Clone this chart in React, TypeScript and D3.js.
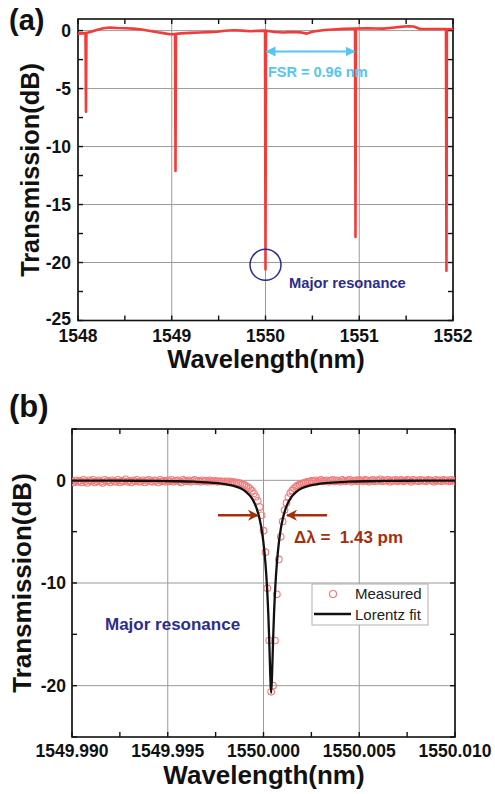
import * as d3 from "d3";

const FONT = "'Liberation Sans', Arial, Helvetica, sans-serif";

// ---- panel (a): full transmission spectrum ----
const specWl = [
  1548.0, 1548.04, 1548.08, 1548.085, 1548.09, 1548.13, 1548.2, 1548.27, 1548.34, 1548.42,
  1548.5, 1548.59, 1548.68, 1548.77, 1548.85, 1548.91, 1548.98, 1549.035, 1549.04, 1549.045,
  1549.1, 1549.2, 1549.3, 1549.4, 1549.48, 1549.57, 1549.66, 1549.75, 1549.84, 1549.92,
  1549.995, 1550.0, 1550.005, 1550.1, 1550.19, 1550.28, 1550.37, 1550.44, 1550.5, 1550.55,
  1550.63, 1550.72, 1550.83, 1550.955, 1550.96, 1550.965, 1551.08, 1551.17, 1551.26, 1551.35,
  1551.44, 1551.52, 1551.58, 1551.65, 1551.72, 1551.79, 1551.88, 1551.925, 1551.93, 1551.935,
  1552.0,
];
const specDb = [
  -0.26, -0.24, -0.22, -7.0, -0.2, -0.12, 0.05, 0.2, 0.26, 0.22,
  0.2, 0.17, 0.1, -0.03, -0.15, -0.22, -0.32, -0.3, -12.1, -0.28,
  -0.24, -0.2, -0.17, -0.13, -0.1, -0.02, 0.03, 0.0, -0.05, -0.02,
  0.0, -20.6, -0.02, -0.12, -0.17, -0.12, -0.15, -0.26, -0.1, -0.03,
  0.05, 0.1, 0.15, 0.18, -17.8, 0.18, 0.2, 0.18, 0.17, 0.24,
  0.32, 0.37, 0.35, 0.14, 0.14, 0.14, 0.14, 0.14, -20.7, 0.12,
  0.14,
];
const xTicksA = [1548, 1549, 1550, 1551, 1552];
const xMinorA = [1548.5, 1549.5, 1550.5, 1551.5];
const yTicksA = [0, -5, -10, -15, -20, -25];
const yMinorA = [-2.5, -7.5, -12.5, -17.5, -22.5];

// ---- panel (b): major resonance ----
const measStart = 1549.99;
const measStep = 0.0001;
const measDb = [
  -0.1, -0.2, 0.0, -0.15, -0.05, -0.2, 0.05, -0.1, -0.25, 0.0,
  -0.1, 0.05, -0.2, -0.1, 0.0, -0.15, -0.25, 0.05, -0.1, -0.05,
  -0.2, 0.0, -0.1, -0.15, 0.05, -0.2, -0.05, -0.1, 0.1, -0.15,
  -0.05, -0.2, 0.0, -0.1, 0.05, -0.15, -0.1, 0.0, -0.2, -0.05,
  0.05, -0.1, -0.15, 0.0, -0.05, -0.2, 0.05, -0.1, -0.05, -0.15,
  0.0, -0.1, 0.05, -0.15, -0.05, 0.0, -0.1, -0.2, 0.05, -0.05,
  -0.1, 0.0, -0.15, -0.05, 0.05, -0.1, -0.05, -0.15, 0.0, -0.1,
  -0.05, -0.15, 0.0, -0.1, -0.1, -0.05, -0.15, -0.1, -0.1, -0.15,
  -0.1, -0.15, -0.1, -0.2, -0.15, -0.2, -0.22, -0.26, -0.3, -0.38,
  -0.45, -0.55, -0.68, -0.83, -1.02, -1.28, -1.6, -2.0, -2.6, -3.4,
  -4.9, -7.0, -10.5, -15.6, -20.6, -20.0, -15.6, -11.1, -7.7, -5.5,
  -4.0, -2.9, -2.2, -1.65, -1.25, -0.98, -0.78, -0.62, -0.5, -0.4,
  -0.32, -0.26, -0.2, -0.15, -0.12, -0.05, -0.1, 0.0, -0.15, -0.05,
  0.05, -0.1, -0.05, 0.0, -0.15, -0.05, 0.05, -0.1, 0.0, -0.05,
  -0.15, 0.05, -0.05, -0.1, 0.0, 0.05, -0.15, -0.05, 0.0, -0.1,
  0.05, -0.05, -0.1, 0.05, 0.0, -0.15, -0.05, 0.05, -0.1, 0.0,
  -0.05, 0.1, -0.1, 0.0, -0.05, 0.05, -0.15, 0.0, -0.05, 0.05,
  -0.1, 0.0, 0.05, -0.1, -0.05, 0.05, 0.0, -0.15, 0.05, -0.05,
  0.0, -0.1, 0.05, -0.05, 0.0, -0.1, 0.05, 0.0, -0.05, -0.15,
  0.05, -0.05, 0.0, -0.1, 0.05, -0.05, 0.0, -0.1, 0.05, -0.05,
  -0.1,
];
const fitWl = [
  1549.99, 1549.9924, 1549.9944, 1549.9954, 1549.9964, 1549.9974, 1549.9979, 1549.9984,
  1549.9988, 1549.9991, 1549.9993, 1549.9995, 1549.99965, 1549.9998, 1549.9999, 1550.0,
  1550.0001, 1550.00018, 1550.00025, 1550.0003, 1550.00035, 1550.0004, 1550.00045, 1550.0005,
  1550.00055, 1550.00062, 1550.0007, 1550.0008, 1550.0009, 1550.001, 1550.00115, 1550.0013,
  1550.0015, 1550.0017, 1550.002, 1550.0024, 1550.0029, 1550.0034, 1550.0044, 1550.0054,
  1550.0064, 1550.0084, 1550.01,
];
const fitDb = [
  -0.02, -0.034, -0.061, -0.087, -0.135, -0.238, -0.338, -0.518,
  -0.78, -1.14, -1.515, -2.1, -2.77, -3.79, -4.76, -6.11,
  -8.04, -10.25, -12.98, -15.6, -18.75, -20.7, -18.75, -15.6,
  -12.98, -10.25, -8.04, -6.11, -4.76, -3.79, -2.77, -2.1,
  -1.515, -1.14, -0.78, -0.518, -0.338, -0.238, -0.135, -0.087,
  -0.061, -0.034, -0.024,
];
const xTicksB = [1549.99, 1549.995, 1550.0, 1550.005, 1550.01];
const xMinorB = [1549.9925, 1549.9975, 1550.0025, 1550.0075];
const yTicksB = [0, -10, -20];
const yMinorB = [5, -5, -15, -25];

type Lin = d3.ScaleLinear<number, number>;

function Frame({ x, y, xMajor, xMinor, yMajor, yMinor, xFmt, yLabelX, xLabelY, clip }: {
  x: Lin; y: Lin; xMajor: number[]; xMinor: number[]; yMajor: number[]; yMinor: number[];
  xFmt: (v: number) => string; yLabelX: number; xLabelY: number; clip: string;
}) {
  const [x0, x1] = x.range();
  const [y0, y1] = y.range(); // y0 bottom, y1 top
  const tk = 5;
  const allX = [...xMajor, ...xMinor];
  const allY = [...yMajor, ...yMinor];
  return (
    <g>
      <defs>
        <clipPath id={clip}>
          <rect x={x0} y={y1} width={x1 - x0} height={y0 - y1} />
        </clipPath>
      </defs>
      {xMajor.map((v) => (
        <line key={"gx" + v} x1={x(v)} x2={x(v)} y1={y0} y2={y1} stroke="#9a9a9a" strokeWidth={1} />
      ))}
      {yMajor.map((v) => (
        <line key={"gy" + v} x1={x0} x2={x1} y1={y(v)} y2={y(v)} stroke="#9a9a9a" strokeWidth={1} />
      ))}
      {allX.map((v) => (
        <g key={"tx" + v}>
          <line x1={x(v)} x2={x(v)} y1={y0} y2={y0 - tk} stroke="#111" strokeWidth={1.4} />
          <line x1={x(v)} x2={x(v)} y1={y1} y2={y1 + tk} stroke="#111" strokeWidth={1.4} />
        </g>
      ))}
      {allY.map((v) => (
        <g key={"ty" + v}>
          <line x1={x0} x2={x0 + tk} y1={y(v)} y2={y(v)} stroke="#111" strokeWidth={1.4} />
          <line x1={x1} x2={x1 - tk} y1={y(v)} y2={y(v)} stroke="#111" strokeWidth={1.4} />
        </g>
      ))}
      <rect x={x0} y={y1} width={x1 - x0} height={y0 - y1} fill="none" stroke="#111" strokeWidth={1.6} />
      {xMajor.map((v) => (
        <text key={"lx" + v} x={x(v)} y={xLabelY} textAnchor="middle" fontSize={17.5} fontWeight="bold"
          fontFamily={FONT} fill="#111">{xFmt(v)}</text>
      ))}
      {yMajor.map((v, i) => (
        <text key={"ly" + v} x={yLabelX} y={y(v) - (i === yMajor.length - 1 && v === -25 ? 2 : 0)} dy="0.36em"
          textAnchor="end" fontSize={17.5} fontWeight="bold" fontFamily={FONT} fill="#111">{String(v)}</text>
      ))}
    </g>
  );
}

export default function App() {
  // panel (a)
  const xa = d3.scaleLinear().domain([1548, 1552]).range([78, 453]);
  const ya = d3.scaleLinear().domain([-25, 1]).range([320.5, 19]);
  const spec = specWl.map((w, i) => [w, specDb[i]] as [number, number]);
  const specLine = d3.line<[number, number]>().x((d) => xa(d[0])).y((d) => ya(d[1]));

  // panel (b)
  const xb = d3.scaleLinear().domain([1549.99, 1550.01]).range([72, 455]);
  const yb = d3.scaleLinear().domain([-25, 5]).range([737, 429]);
  const meas = measDb.map((v, i) => [measStart + i * measStep, v] as [number, number]);
  const fit = fitWl.map((w, i) => [w, fitDb[i]] as [number, number]);
  const fitLine = d3.line<[number, number]>().x((d) => xb(d[0])).y((d) => yb(d[1])).curve(d3.curveMonotoneX);

  const blue = "#55c6f0";
  const navy = "#2c2c8c";
  const brown = "#a3300c";

  return (
    <svg width={495} height={794} style={{ position: "absolute", left: 0, top: 0, background: "#fff" }}
      fontFamily={FONT}>
      <defs>
        <marker id="arrBlue" viewBox="0 0 10 10" refX={9} refY={5} markerWidth={5} markerHeight={5} orient="auto-start-reverse">
          <path d="M0,0 L10,5 L0,10 z" fill={blue} />
        </marker>
        <marker id="arrBrown" viewBox="0 0 10 10" refX={9} refY={5} markerWidth={4.5} markerHeight={4.5} orient="auto">
          <path d="M0,0 L10,5 L0,10 L3,5 z" fill={brown} />
        </marker>
      </defs>

      {/* ---------- (a) ---------- */}
      <text x={9} y={30} fontSize={29} fontWeight="bold" fill="#111">(a)</text>
      <Frame x={xa} y={ya} xMajor={xTicksA} xMinor={xMinorA} yMajor={yTicksA} yMinor={yMinorA}
        xFmt={(v) => String(v)} yLabelX={71} xLabelY={342} clip="clipA" />
      <path d={specLine(spec) ?? ""} fill="none" stroke="#f23c3a" strokeWidth={2.6} strokeLinejoin="round"
        clipPath="url(#clipA)" />
      <line x1={xa(1550.0) + 1} x2={xa(1550.96) - 1} y1={ya(-1.8)} y2={ya(-1.8)} stroke={blue} strokeWidth={2}
        markerStart="url(#arrBlue)" markerEnd="url(#arrBlue)" />
      <text x={268} y={77} fontSize={14.5} fontWeight="bold" fill={blue}>FSR = 0.96 nm</text>
      <circle cx={xa(1550.0)} cy={ya(-20.2)} r={15.5} fill="none" stroke={navy} strokeWidth={1.5} />
      <text x={289} y={288} fontSize={14.7} fontWeight="bold" fill={navy}>Major resonance</text>
      <text x={30} y={170} transform="rotate(-90 30 170)" textAnchor="middle" dy="0.36em" fontSize={25.3}
        fontWeight="bold" fill="#111">Transmission(dB)</text>
      <text x={266} y={368} textAnchor="middle" fontSize={25.5} fontWeight="bold" fill="#111">Wavelength(nm)</text>

      {/* ---------- (b) ---------- */}
      <text x={9} y={417} fontSize={31} fontWeight="bold" fill="#111">(b)</text>
      <Frame x={xb} y={yb} xMajor={xTicksB} xMinor={xMinorB} yMajor={yTicksB} yMinor={yMinorB}
        xFmt={(v) => v.toFixed(3)} yLabelX={66} xLabelY={757} clip="clipB" />
      <g clipPath="url(#clipB)">
        {meas.map((d, i) => (
          <circle key={i} cx={xb(d[0])} cy={yb(d[1])} r={3.3} fill="none" stroke="#f07a7a" strokeWidth={1.1} />
        ))}
        <path d={fitLine(fit) ?? ""} fill="none" stroke="#111" strokeWidth={2.3} />
      </g>
      <line x1={218} x2={258} y1={yb(-3.4)} y2={yb(-3.4)} stroke={brown} strokeWidth={2.5} markerEnd="url(#arrBrown)" />
      <line x1={327} x2={287} y1={yb(-3.4)} y2={yb(-3.4)} stroke={brown} strokeWidth={2.5} markerEnd="url(#arrBrown)" />
      <text x={294} y={543} fontSize={17} fontWeight="bold" fill={brown} xmlSpace="preserve">Δλ =  1.43 pm</text>
      <text x={105} y={630} fontSize={17} fontWeight="bold" fill={navy}>Major resonance</text>

      <rect x={312} y={584} width={116} height={41} fill="#fff" stroke="#b0b0b0" strokeWidth={1} />
      <circle cx={333} cy={594} r={3.5} fill="none" stroke="#f07a7a" strokeWidth={1.2} />
      <text x={355} y={599} fontSize={15} fill="#222">Measured</text>
      <line x1={314} x2={351} y1={614} y2={614} stroke="#111" strokeWidth={2.5} />
      <text x={355} y={619.5} fontSize={15} fill="#222">Lorentz fit</text>
      <text x={22} y={583} transform="rotate(-90 22 583)" textAnchor="middle" dy="0.36em" fontSize={26}
        fontWeight="bold" fill="#111">Transmission(dB)</text>
      <text x={264} y={784} textAnchor="middle" fontSize={26} fontWeight="bold" fill="#111">Wavelength(nm)</text>
    </svg>
  );
}
